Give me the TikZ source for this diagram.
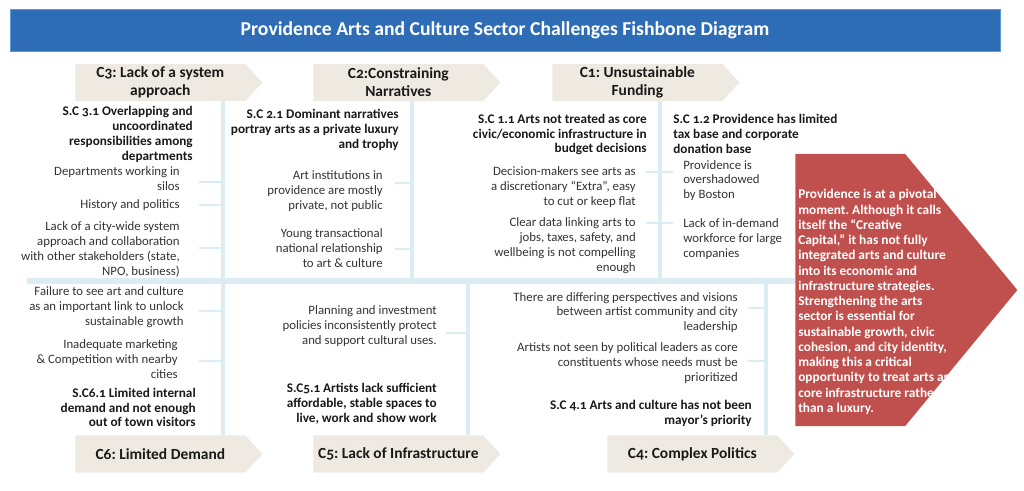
\documentclass[tikz,border=0pt]{standalone}
\usepackage{fontspec}
\setmainfont{Carlito}[Numbers=OldStyle]
\usetikzlibrary{shapes.symbols}
\frenchspacing

\definecolor{titleblue}{RGB}{46,108,182}
\definecolor{titleedge}{RGB}{91,155,213}
\definecolor{tagfill}{RGB}{238,234,226}
\definecolor{bonecol}{RGB}{219,236,243}
\definecolor{goalred}{RGB}{192,80,77}
\definecolor{txtgray}{RGB}{51,51,51}

\tikzset{
    tag/.style={shape=signal, signal to=east, signal pointer angle=95, fill=tagfill,
        minimum width=4.675cm, minimum height=0.925cm, inner sep=0pt, anchor=west,
        align=center, text=black!90, font=\fontsize{11}{12.8}\selectfont\bfseries},
    cause/.style={align=right, anchor=east, inner sep=0pt, text=txtgray,
        font=\fontsize{9.1}{10.6}\selectfont},
    subcause/.style={cause, text=black!90, font=\fontsize{9.4}{10.6}\selectfont\bfseries},
    bone/.style={draw=bonecol, line width=3.5pt},
    rib/.style={draw=bonecol, line width=2pt},
}

\begin{document}
\begin{tikzpicture}[x=0.025cm, y=-0.025cm]
    \useasboundingbox (0, 0) rectangle (1024, 491);

    \node[fill=titleblue, draw=titleedge, minimum width=24.75cm, minimum height=1.04cm,
        text=white, font=\fontsize{14}{16}\selectfont\bfseries] (title) at (505, 30.3)
        {Providence Arts and Culture Sector Challenges Fishbone Diagram};

    \node[tag] (c3) at (75, 82.5) {C3: Lack of a system\\approach};
    \node[tag] (c2) at (313, 82.5) {C2:Constraining\\Narratives};
    \node[tag] (c1) at (552, 82.5) {C1: Unsustainable\\Funding};
    \node[tag] (c6) at (75, 454) {C6: Limited Demand};
    \node[tag] (c5) at (313, 454) {C5: Lack of Infrastructure};
    \node[tag] (c4) at (607, 454) {C4: Complex Politics};

    \node[shape=signal, signal to=east, signal pointer angle=101, fill=goalred,
        minimum width=5.55cm, minimum height=6.8cm, inner sep=0pt, anchor=west] (goal) at (795, 290) {};

    % spine and bones
    \coordinate (tail) at (27, 281);
    \coordinate (b3) at (223, 281);
    \coordinate (b2) at (412, 281);
    \coordinate (b1) at (660, 281);
    \coordinate (b6) at (223, 281);
    \coordinate (b5) at (468, 281);
    \coordinate (b4) at (766, 281);
    \draw[bone, line width=4pt] (tail) -- (tail -| goal.west);
    \draw[bone] (c3.south -| b3) -- (b3);
    \draw[bone] (c2.south -| b2) -- (b2);
    \draw[bone] (c1.south -| b1) -- (b1);
    \draw[bone] (b6) -- (b6 |- c6.north);
    \draw[bone] (b5) -- (b5 |- c5.north);
    \draw[bone] (b4) -- (b4 |- c4.north);

    % ribs
    \coordinate (r31) at (199, 182);
    \coordinate (r32) at (199, 205);
    \coordinate (r33) at (199, 248);
    \coordinate (r21) at (395, 183);
    \coordinate (r22) at (395, 249);
    \coordinate (r11) at (646, 172);
    \coordinate (r12) at (646, 223);
    \coordinate (r61) at (199, 311);
    \coordinate (r62) at (199, 361);
    \coordinate (r51) at (446, 333);
    \coordinate (r41) at (748, 308);
    \coordinate (r42) at (748, 361);
    \draw[rib] (r31) -- (r31 -| b3);
    \draw[rib] (r32) -- (r32 -| b3);
    \draw[rib] (r33) -- (r33 -| b3);
    \draw[rib] (r21) -- (r21 -| b2);
    \draw[rib] (r22) -- (r22 -| b2);
    \draw[rib] (r11) -- ([xshift=0.325cm]r11 -| b1);
    \draw[rib] (r12) -- ([xshift=0.325cm]r12 -| b1);
    \draw[rib] (r61) -- (r61 -| b6);
    \draw[rib] (r62) -- (r62 -| b6);
    \draw[rib] (r51) -- (r51 -| b5);
    \draw[rib] (r41) -- (r41 -| b4);
    \draw[rib] (r42) -- (r42 -| b4);

    % C3
    \node[subcause] (sc31) at (193, 134.5) {S.C 3.1 Overlapping and\\uncoordinated\\responsibilities among\\departments};
    \node[cause] (t31) at (180, 179) {Departments working in\\silos};
    \node[cause] (t32) at (180, 205) {History and politics};
    \node[cause] (t33) at (180, 249.5) {Lack of a city-wide system\\approach and collaboration\\with other stakeholders (state,\\NPO, business)};

    % C2
    \node[subcause] (sc21) at (399, 130) {S.C 2.1 Dominant narratives\\portray arts as a private luxury\\and trophy};
    \node[cause] (t21) at (383, 191.5) {Art institutions in\\providence are mostly\\private, not public};
    \node[cause] (t22) at (383, 248) {Young transactional\\national relationship\\to art \& culture};

    % C1
    \node[subcause] (sc11) at (647, 134.5) {S.C 1.1 Arts not treated as core\\civic/economic infrastructure in\\budget decisions};
    \node[subcause, anchor=west, align=left] (sc12) at (673, 134) {S.C 1.2 Providence has limited\\tax base and corporate\\donation base};
    \node[cause] (t11) at (636, 187) {Decision-makers see arts as\\a discretionary “Extra”, easy\\to cut or keep flat};
    \node[cause] (t12) at (636, 245.5) {Clear data linking arts to\\jobs, taxes, safety, and\\wellbeing is not compelling\\enough};
    \node[cause, anchor=west, align=left] (t13) at (683, 180.5) {Providence is\\overshadowed\\by Boston};
    \node[cause, anchor=west, align=left] (t14) at (683, 239) {Lack of in-demand\\workforce for large\\companies};

    % C6
    \node[cause] (t61) at (184, 307.5) {Failure to see art and culture\\as an important link to unlock\\sustainable growth};
    \node[cause] (t62) at (178, 359.5) {Inadequate marketing\\\& Competition with nearby\\cities};
    \node[subcause] (sc61) at (196, 407.5) {S.C6.1 Limited internal\\demand and not enough\\out of town visitors};

    % C5
    \node[cause] (t51) at (437, 326) {Planning and investment\\policies inconsistently protect\\and support cultural uses.};
    \node[subcause] (sc51) at (437, 404) {S.C5.1 Artists lack sufficient\\affordable, stable spaces to\\live, work and show work};

    % C4
    \node[cause] (t41) at (738, 312.5) {There are differing perspectives and visions\\between artist community and city\\leadership};
    \node[cause] (t42) at (738, 363) {Artists not seen by political leaders as core\\constituents whose needs must be\\prioritized};
    \node[subcause] (sc41) at (752, 413.5) {S.C 4.1 Arts and culture has not been\\mayor’s priority};

    \node[anchor=west, align=left, inner sep=0pt, text=white,
        font=\fontsize{9.5}{10.85}\selectfont\bfseries] (goaltext) at (798, 302)
        {Providence is at a pivotal\\moment. Although it calls\\itself the “Creative\\Capital,” it has not fully\\integrated arts and culture\\into its economic and\\infrastructure strategies.\\Strengthening the arts\\sector is essential for\\sustainable growth, civic\\cohesion, and city identity,\\making this a critical\\opportunity to treat arts as\\core infrastructure rather\\than a luxury.};
\end{tikzpicture}
\end{document}
